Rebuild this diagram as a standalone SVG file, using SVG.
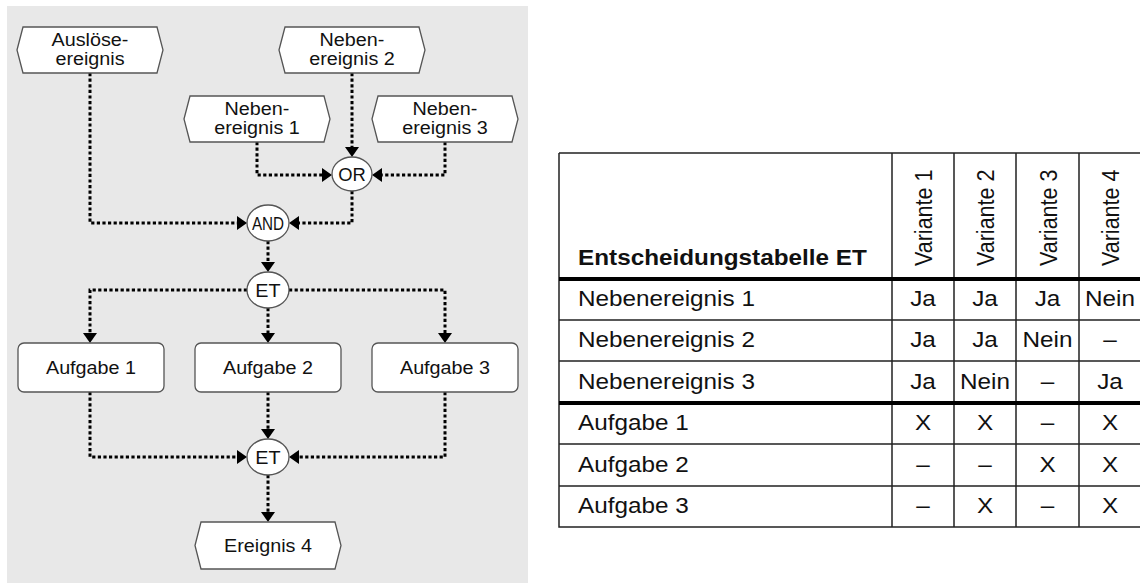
<svg xmlns="http://www.w3.org/2000/svg" width="1140" height="586" viewBox="0 0 1140 586">
  <style>
    .panel { fill: #e8e8e8; }
    .node { fill: #ffffff; stroke: #555555; stroke-width: 1.3; }
    .lbl { font-family: "Liberation Sans", Arial, sans-serif; font-size: 17.5px; fill: #111111; text-anchor: middle; }
    .conn { fill: none; stroke: #000000; stroke-width: 3; stroke-dasharray: 3.2 2.4; }
    .grid { stroke: #222222; stroke-width: 1.5; fill: none; }
    .thick { stroke: #000000; stroke-width: 4; fill: none; }
    .tt { font-family: "Liberation Sans", Arial, sans-serif; font-size: 21.5px; fill: #111111; }
    .tc { text-anchor: middle; }
    .th { font-weight: bold; }
  </style>
  <defs>
    <marker id="ah" viewBox="0 0 10 14" refX="1" refY="7" markerWidth="10" markerHeight="14" orient="auto" markerUnits="userSpaceOnUse">
      <path d="M0,0 L10,7 L0,14 z" fill="#000000"/>
    </marker>
  </defs>

  <!-- process panel -->
  <rect class="panel" x="7" y="6" width="521" height="577"/>

  <!-- connectors -->
  <g id="connectors">
    <path class="conn" d="M352,73 V148" marker-end="url(#ah)"/>
    <path class="conn" d="M257,142 V175 H323" marker-end="url(#ah)"/>
    <path class="conn" d="M445,142 V175 H381" marker-end="url(#ah)"/>
    <path class="conn" d="M90,73 V223 H238" marker-end="url(#ah)"/>
    <path class="conn" d="M352,191 V223 H298" marker-end="url(#ah)"/>
    <path class="conn" d="M268,241 V263" marker-end="url(#ah)"/>
    <path class="conn" d="M247,290 H90 V334" marker-end="url(#ah)"/>
    <path class="conn" d="M268,308 V334" marker-end="url(#ah)"/>
    <path class="conn" d="M289,290 H445 V334" marker-end="url(#ah)"/>
    <path class="conn" d="M90,392 V457 H238" marker-end="url(#ah)"/>
    <path class="conn" d="M268,392 V430" marker-end="url(#ah)"/>
    <path class="conn" d="M445,392 V457 H298" marker-end="url(#ah)"/>
    <path class="conn" d="M268,475 V513" marker-end="url(#ah)"/>
  </g>

  <!-- events -->
  <g id="ausloeseereignis">
    <polygon class="node" points="17,50 23,27 157,27 163,50 157,73 23,73"/>
    <text class="lbl" transform="translate(90 46) scale(1.13 1)">Auslöse-</text>
    <text class="lbl" transform="translate(90 65) scale(1.13 1)">ereignis</text>
  </g>
  <g id="nebenereignis2">
    <polygon class="node" points="279,50 285,27 419,27 425,50 419,73 285,73"/>
    <text class="lbl" transform="translate(352 46) scale(1.13 1)">Neben-</text>
    <text class="lbl" transform="translate(352 65) scale(1.13 1)">ereignis 2</text>
  </g>
  <g id="nebenereignis1">
    <polygon class="node" points="184,119 190,96 324,96 330,119 324,142 190,142"/>
    <text class="lbl" transform="translate(257 115) scale(1.13 1)">Neben-</text>
    <text class="lbl" transform="translate(257 134) scale(1.13 1)">ereignis 1</text>
  </g>
  <g id="nebenereignis3">
    <polygon class="node" points="372,119 378,96 512,96 518,119 512,142 378,142"/>
    <text class="lbl" transform="translate(445 115) scale(1.13 1)">Neben-</text>
    <text class="lbl" transform="translate(445 134) scale(1.13 1)">ereignis 3</text>
  </g>

  <!-- operators -->
  <g id="or">
    <ellipse class="node" cx="352" cy="174" rx="20" ry="17"/>
    <text class="lbl" transform="translate(352 180.5) scale(1.05 1)">OR</text>
  </g>
  <g id="and">
    <ellipse class="node" cx="268" cy="223" rx="21" ry="18"/>
    <text class="lbl" transform="translate(268 229.5) scale(0.87 1)">AND</text>
  </g>
  <g id="et-split">
    <ellipse class="node" cx="268" cy="290" rx="21" ry="18"/>
    <text class="lbl" transform="translate(268 296.5) scale(1.13 1)">ET</text>
  </g>

  <!-- tasks -->
  <g id="aufgabe1">
    <rect class="node" x="18" y="343" width="146" height="49" rx="6"/>
    <text class="lbl" transform="translate(91 374) scale(1.13 1)">Aufgabe 1</text>
  </g>
  <g id="aufgabe2">
    <rect class="node" x="195" y="343" width="146" height="49" rx="6"/>
    <text class="lbl" transform="translate(268 374) scale(1.13 1)">Aufgabe 2</text>
  </g>
  <g id="aufgabe3">
    <rect class="node" x="372" y="343" width="146" height="49" rx="6"/>
    <text class="lbl" transform="translate(445 374) scale(1.13 1)">Aufgabe 3</text>
  </g>

  <g id="et-join">
    <ellipse class="node" cx="268" cy="457" rx="21" ry="18"/>
    <text class="lbl" transform="translate(268 463.5) scale(1.13 1)">ET</text>
  </g>

  <g id="ereignis4">
    <polygon class="node" points="195,545.5 201,522 335,522 341,545.5 335,569 201,569"/>
    <text class="lbl" transform="translate(268 552) scale(1.13 1)">Ereignis 4</text>
  </g>

  <!-- decision table -->
  <g id="entscheidungstabelle">
    <path class="grid" d="M559,153 H1140 M559,153 V527 H1140"/>
    <path class="grid" d="M892,153 V527 M954,153 V527 M1016,153 V527 M1079,153 V527"/>
    <path class="grid" d="M559,320 H1140 M559,361 H1140 M559,444 H1140 M559,486 H1140"/>
    <path class="thick" d="M559,279 H1140 M559,403 H1140"/>

    <text class="tt th" transform="translate(578 265) scale(1.13 1)">Entscheidungstabelle ET</text>
    <text class="tt" transform="translate(932 266) scale(1.13 1) rotate(-90)">Variante 1</text>
    <text class="tt" transform="translate(994 266) scale(1.13 1) rotate(-90)">Variante 2</text>
    <text class="tt" transform="translate(1056.5 266) scale(1.13 1) rotate(-90)">Variante 3</text>
    <text class="tt" transform="translate(1119 266) scale(1.13 1) rotate(-90)">Variante 4</text>

    <text class="tt" transform="translate(578 306) scale(1.13 1)">Nebenereignis 1</text>
    <text class="tt tc" transform="translate(923 306) scale(1.13 1)">Ja</text>
    <text class="tt tc" transform="translate(985 306) scale(1.13 1)">Ja</text>
    <text class="tt tc" transform="translate(1047.5 306) scale(1.13 1)">Ja</text>
    <text class="tt tc" transform="translate(1110 306) scale(1.13 1)">Nein</text>

    <text class="tt" transform="translate(578 347) scale(1.13 1)">Nebenereignis 2</text>
    <text class="tt tc" transform="translate(923 347) scale(1.13 1)">Ja</text>
    <text class="tt tc" transform="translate(985 347) scale(1.13 1)">Ja</text>
    <text class="tt tc" transform="translate(1047.5 347) scale(1.13 1)">Nein</text>
    <text class="tt tc" transform="translate(1110 347) scale(1.13 1)">–</text>

    <text class="tt" transform="translate(578 388.5) scale(1.13 1)">Nebenereignis 3</text>
    <text class="tt tc" transform="translate(923 388.5) scale(1.13 1)">Ja</text>
    <text class="tt tc" transform="translate(985 388.5) scale(1.13 1)">Nein</text>
    <text class="tt tc" transform="translate(1047.5 388.5) scale(1.13 1)">–</text>
    <text class="tt tc" transform="translate(1110 388.5) scale(1.13 1)">Ja</text>

    <text class="tt" transform="translate(578 430) scale(1.13 1)">Aufgabe 1</text>
    <text class="tt tc" transform="translate(923 430) scale(1.13 1)">X</text>
    <text class="tt tc" transform="translate(985 430) scale(1.13 1)">X</text>
    <text class="tt tc" transform="translate(1047.5 430) scale(1.13 1)">–</text>
    <text class="tt tc" transform="translate(1110 430) scale(1.13 1)">X</text>

    <text class="tt" transform="translate(578 471.5) scale(1.13 1)">Aufgabe 2</text>
    <text class="tt tc" transform="translate(923 471.5) scale(1.13 1)">–</text>
    <text class="tt tc" transform="translate(985 471.5) scale(1.13 1)">–</text>
    <text class="tt tc" transform="translate(1047.5 471.5) scale(1.13 1)">X</text>
    <text class="tt tc" transform="translate(1110 471.5) scale(1.13 1)">X</text>

    <text class="tt" transform="translate(578 513) scale(1.13 1)">Aufgabe 3</text>
    <text class="tt tc" transform="translate(923 513) scale(1.13 1)">–</text>
    <text class="tt tc" transform="translate(985 513) scale(1.13 1)">X</text>
    <text class="tt tc" transform="translate(1047.5 513) scale(1.13 1)">–</text>
    <text class="tt tc" transform="translate(1110 513) scale(1.13 1)">X</text>
  </g>
</svg>
